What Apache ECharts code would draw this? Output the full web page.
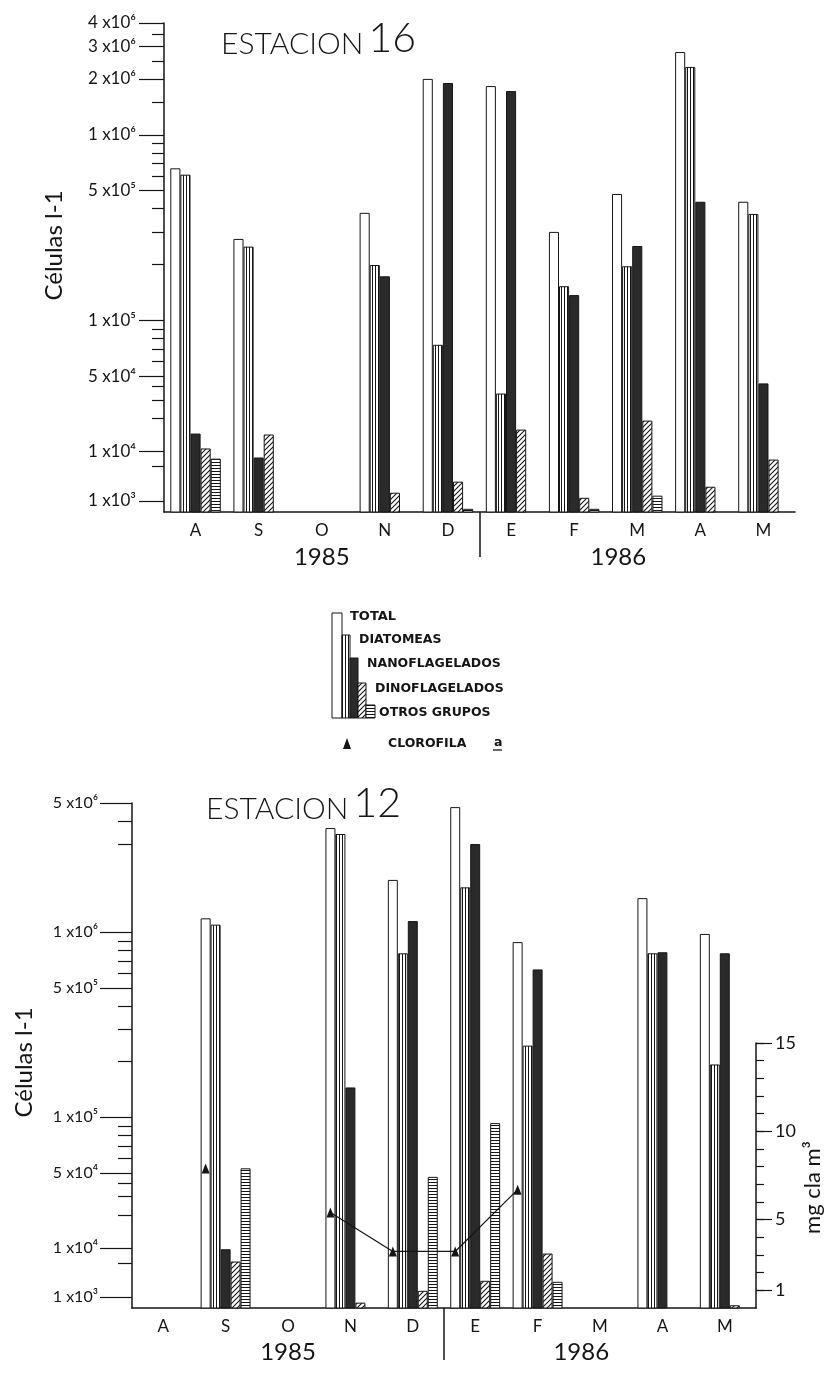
<!DOCTYPE html>
<html><head><meta charset="utf-8">
<script src="https://cdn.jsdelivr.net/npm/echarts@6/dist/echarts.min.js"></script>
<style>html,body{margin:0;padding:0;background:#fff}#c{width:832px;height:1373px}</style>
</head><body><div id="c"></div>
<script>
// ---------- DATA ----------
const months = ['A','S','O','N','D','E','F','M','A','M'];
const years = ['1985','1986'];
const seriesNames = ['TOTAL','DIATOMEAS','NANOFLAGELADOS','DINOFLAGELADOS','OTROS GRUPOS'];

// Estación 16 (células l-1)
const total16  = [660000, 275000, null, 380000, 2000000, 1830000, 300000, 480000, 2790000, 436000];
const diat16   = [610000, 250000, null, 199000,   74000,   34500, 153000, 196000, 2320000, 375000];
const nano16   = [ 14500,   7600, null, 173000, 1900000, 1720000, 137000, 252000,  436000,  43000];
const dino16   = [ 10500,  14200, null,   1460,    2450,   15800,   1150,  19200,    1930,   6900];
const otros16  = [  7200,   null, null,   null,     905,    null,    905,   1270,    null,   null];

// Estación 12 (células l-1)
const total12  = [null, 1190000, null, 3660000, 1920000, 4750000, 885000, null, 1530000, 980000];
const diat12   = [null, 1100000, null, 3400000,  770000, 1750000, 244000, null,  770000, 193000];
const nano12   = [null,    9700, null,  145000, 1150000, 3000000, 630000, null,  780000, 770000];
const dino12   = [null,    5400, null,     930,    1330,    2150,   7900, null,    null,    900];
const otros12  = [null,   53000, null,    null,   46000,   93000,   2050, null,    null,   null];
// Clorofila a (mg cl a m-3), Estación 12
const clorofila12 = [null, 7.9, null, 5.4, 3.2, 3.2, 6.7, null, null, null];

// tick values
const labelTicks16 = [1e3, 1e4, 5e4, 1e5, 5e5, 1e6, 2e6, 3e6, 4e6];
const minorTicks16 = [5e3, 2e4, 3e4, 4e4, 6e4, 7e4, 8e4, 9e4, 2e5, 3e5, 4e5, 6e5, 7e5, 8e5, 9e5, 1.5e6, 2.5e6, 3.5e6];
const labelTicks12 = [1e3, 1e4, 5e4, 1e5, 5e5, 1e6, 5e6];
const minorTicks12 = [5e3, 2e4, 3e4, 4e4, 6e4, 7e4, 8e4, 9e4, 2e5, 3e5, 4e5, 6e5, 7e5, 8e5, 9e5, 3e6, 4e6];
const chlLabelTicks = [1, 5, 10, 15];
const chlMinorTicks = [1,2,3,4,5,6,7,8,9,10,11,12,13,14,15];

// ---------- STYLE ----------
const INK = '#151515';
const F = 'Lato, "DejaVu Sans", sans-serif';
function mkPattern(kind){
  const c = document.createElement('canvas');
  let w = 5, h = 5;
  if (kind === 'v') { w = 3; h = 4; }
  if (kind === 'h') { w = 4; h = 3; }
  c.width = w; c.height = h;
  const g = c.getContext('2d');
  g.fillStyle = '#fff'; g.fillRect(0,0,w,h);
  g.fillStyle = INK; g.strokeStyle = INK;
  if (kind === 'v') g.fillRect(0,0,1,h);
  else if (kind === 'h') g.fillRect(0,0,w,1);
  else { g.lineWidth = 1.1; g.beginPath(); g.moveTo(-1,h+1); g.lineTo(w+1,-1);
         g.moveTo(-1,1); g.lineTo(1,-1); g.moveTo(w-1,h+1); g.lineTo(w+1,h-1); g.stroke(); }
  return {image: c, repeat: 'repeat'};
}
const fills = ['#ffffff', mkPattern('v'), '#2a2a2a', mkPattern('d'), mkPattern('h')];

const SUP = {'0':'⁰','1':'¹','2':'²','3':'³','4':'⁴','5':'⁵','6':'⁶','7':'⁷','8':'⁸','9':'⁹'};
function fmtExp(v){
  if (v < 100) v = Math.pow(10, v);
  const ex = Math.floor(Math.log10(v) + 1e-9);
  const m = Math.round(v / Math.pow(10, ex));
  return m + ' x10' + SUP[ex];
}

const Y_MIN = 870;
const BAR_CAT_GAP = 0.2;
const xOff = -2 * (1 - BAR_CAT_GAP) / 5;   // centre of the TOTAL bar inside a month group

function logAxis(gridIndex, max, gaps, extra){
  return Object.assign({
    type: 'log', logBase: 10, gridIndex, min: Y_MIN, max, position: 'left',
    breaks: [
      {start: 1000, end: 9900, gap: gaps[0]},
      {start: 10100, end: 50000, gap: gaps[1]}
    ],
    breakArea: {show: false, expandOnClick: false, zigzagAmplitude: 0,
      itemStyle: {color: 'rgba(0,0,0,0)', borderColor: 'rgba(0,0,0,0)', borderWidth: 0}},
    axisLine: {show: false, onZero: false},
    splitLine: {show: false}
  }, extra);
}
function lineOnlyAxis(gridIndex, position){
  return {type: 'value', gridIndex, min: 0, max: 1, position,
    axisLine: {show: true, onZero: false, lineStyle: {color: INK, width: 1.5}},
    axisTick: {show: false}, axisLabel: {show: false}, splitLine: {show: false}};
}

function barSeries(arrs, xi, yi){
  return arrs.map((arr, k) => ({
    type: 'bar', name: seriesNames[k], xAxisIndex: xi, yAxisIndex: yi,
    data: arr.map(v => v == null ? '-' : v),
    barGap: '0%', barCategoryGap: (BAR_CAT_GAP*100) + '%',
    itemStyle: {color: fills[k], borderColor: INK, borderWidth: 1},
    silent: true
  }));
}

function monthAxis(gridIndex){
  return {type: 'category', gridIndex, data: months, position: 'bottom',
    axisLine: {onZero: false, lineStyle: {color: INK, width: 1.5}},
    axisTick: {show: false},
    axisLabel: {color: INK, fontSize: 17, fontFamily: F, margin: 10},
    splitLine: {show: false}};
}
function yearAxis(gridIndex, tickLen, margin){
  return {type: 'value', gridIndex, min: -0.5, max: 9.5, position: 'bottom',
    axisLine: {show: false, onZero: false}, splitLine: {show: false},
    axisTick: {show: true, customValues: [4.5], length: tickLen, lineStyle: {color: INK, width: 1.5}},
    axisLabel: {show: true, customValues: [2, 6.7], formatter: v => years[v < 4.5 ? 0 : 1],
      color: INK, fontSize: 24, fontFamily: F, margin}};
}

const chart = echarts.init(document.getElementById('c'), null, {renderer: 'canvas', width: 832, height: 1373});

const titleRich = {
  a: {fontSize: 30, fontFamily: F, fontWeight: 300, color: INK, lineHeight: 40, verticalAlign: 'bottom'},
  b: {fontSize: 41, fontFamily: F, fontWeight: 300, color: INK, lineHeight: 40, verticalAlign: 'bottom'}
};

const option = {
  animation: false,
  backgroundColor: '#fff',
  title: [
    {text: '{a|ESTACION} {b|16}', left: 216, top: 14, textStyle: {fontWeight: 300, rich: titleRich}},
    {text: '{a|ESTACION} {b|12}', left: 201, top: 779, textStyle: {fontWeight: 300, rich: titleRich}}
  ],
  grid: [
    {left: 164, top: 23, width: 631, height: 489, containLabel: false, outerBoundsMode: 'none'},
    {left: 132, top: 803, width: 624, height: 505, containLabel: false, outerBoundsMode: 'none'},
    {left: 132, top: 1043, width: 624, height: 265, containLabel: false, outerBoundsMode: 'none'}
  ],
  xAxis: [
    monthAxis(0),
    yearAxis(0, 45, 33),
    monthAxis(1),
    yearAxis(1, 52, 32),
    {type: 'value', gridIndex: 2, min: -0.5, max: 9.5, show: false, axisLine: {onZero: false}}
  ],
  yAxis: [
    logAxis(0, 4e6, ['10%', '15.1%'], {
      axisTick: {show: true, customValues: minorTicks16, length: 12, lineStyle: {color: INK, width: 1.2}},
      axisLabel: {show: false},
      name: 'Células l-1', nameLocation: 'middle', nameRotate: 90, nameGap: 98,
      nameTextStyle: {color: INK, fontSize: 24, fontFamily: F, padding: [0, 0, 0, 44]}}),
    logAxis(0, 4e6, ['10%', '15.1%'], {
      axisTick: {show: true, customValues: labelTicks16, length: 25, lineStyle: {color: INK, width: 1.2}},
      axisLabel: {show: true, customValues: labelTicks16, formatter: fmtExp, margin: 28,
        color: INK, fontSize: 17, fontFamily: F}}),
    lineOnlyAxis(0, 'left'),
    logAxis(1, 5e6, ['9.5%', '14.7%'], {
      axisTick: {show: true, customValues: minorTicks12, length: 14, lineStyle: {color: INK, width: 1.2}},
      axisLabel: {show: false},
      name: 'Células l-1', nameLocation: 'middle', nameRotate: 90, nameGap: 96,
      nameTextStyle: {color: INK, fontSize: 24, fontFamily: F, padding: [0, 14, 0, 0]}}),
    logAxis(1, 5e6, ['9.5%', '14.7%'], {
      axisTick: {show: true, customValues: labelTicks12, length: 32, lineStyle: {color: INK, width: 1.2}},
      axisLabel: {show: true, customValues: labelTicks12, formatter: fmtExp, margin: 34,
        color: INK, fontSize: 16, fontFamily: F}}),
    lineOnlyAxis(1, 'left'),
    {type: 'value', gridIndex: 2, min: 0, max: 15, interval: 1, position: 'right',
      splitLine: {show: false},
      axisLine: {show: true, onZero: false, lineStyle: {color: INK, width: 1.5}},
      axisTick: {show: true, customValues: chlMinorTicks, length: 8, lineStyle: {color: INK, width: 1.2}},
      axisLabel: {show: false},
      name: 'mg cla m³', nameLocation: 'middle', nameRotate: 90, nameGap: 46,
      nameTextStyle: {color: INK, fontSize: 22, fontFamily: F, padding: [0, 24, 0, 0]}},
    {type: 'value', gridIndex: 2, min: 0, max: 15, interval: 1, position: 'right',
      splitLine: {show: false}, axisLine: {show: false, onZero: false},
      axisTick: {show: true, customValues: chlLabelTicks, length: 16, lineStyle: {color: INK, width: 1.2}},
      axisLabel: {show: true, customValues: chlLabelTicks, margin: 19, color: INK, fontSize: 18, fontFamily: F}}
  ],
  series: [
    ...barSeries([total16, diat16, nano16, dino16, otros16], 0, 0),
    ...barSeries([total12, diat12, nano12, dino12, otros12], 2, 3),
    {type: 'line', name: 'CLOROFILA a', xAxisIndex: 4, yAxisIndex: 6, z: 10,
      data: clorofila12.map((v, i) => [i + xOff, v == null ? '-' : v]),
      connectNulls: false, symbol: 'triangle', symbolSize: [8, 10],
      itemStyle: {color: INK}, lineStyle: {color: INK, width: 1.2}, silent: true}
  ],
  graphic: []
};

// legend key (drawn as a stepped group of bars)
(function(){
  const lx = [332, 342, 350, 358, 366, 375];
  const tops = [613, 635, 658, 683, 705];
  const bottom = 718;
  const textPos = [[350, 617], [359, 640], [367, 664], [375, 689], [379, 713]];
  const g = [];
  for (let k = 0; k < 5; k++) {
    g.push({type: 'rect', shape: {x: lx[k], y: tops[k], width: lx[k+1]-lx[k], height: bottom - tops[k]},
      style: {fill: fills[k], stroke: INK, lineWidth: 1}});
    g.push({type: 'text', x: textPos[k][0], y: textPos[k][1],
      style: {text: seriesNames[k], fill: INK, font: (k === 0 ? '900 13px ' : 'bold 12.5px ') + '"DejaVu Sans", sans-serif',
        align: 'left', verticalAlign: 'middle'}});
  }
  g.push({type: 'polygon', shape: {points: [[343, 749], [351, 749], [347, 738]]}, style: {fill: INK}});
  g.push({type: 'text', x: 388, y: 744, style: {text: 'CLOROFILA', fill: INK, font: 'bold 12.5px "DejaVu Sans", sans-serif', align: 'left', verticalAlign: 'middle'}});
  g.push({type: 'text', x: 494, y: 743, style: {text: 'a', fill: INK, font: 'bold 12.5px "DejaVu Sans", sans-serif', align: 'left', verticalAlign: 'middle'}});
  g.push({type: 'line', shape: {x1: 493, y1: 750, x2: 502, y2: 750}, style: {stroke: INK, lineWidth: 1.3}});
  option.graphic = g;
})();

chart.setOption(option);
</script>
</body></html>
